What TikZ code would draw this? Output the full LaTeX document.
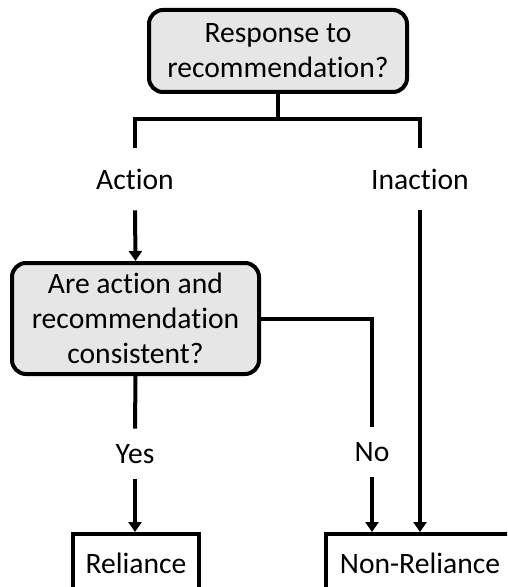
\documentclass[tikz,border=0pt]{standalone}
\definecolor{BoxGray}{HTML}{E6E6E6}
\usepackage{fontspec}
\setmainfont[Ligatures={NoCommon, NoContextual}]{Carlito}
\usepackage{tikz}
\usetikzlibrary{positioning, arrows.meta, calc}

\begin{document}
\begin{tikzpicture}[
  x=0.5pt, y=-0.5pt,
  question/.style={
    draw=black, line width=2pt, rounded corners=7pt,
    fill=BoxGray, align=center, inner sep=0pt,
    font=\fontsize{14.8pt}{17.6pt}\selectfont
  },
  outcome/.style={
    draw=black, line width=2pt, align=center,
    minimum height=29pt, inner sep=0pt,
    font=\fontsize{14.8pt}{17.6pt}\selectfont
  },
  lbl/.style={inner sep=0pt, font=\fontsize{14.8pt}{17.6pt}\selectfont},
  link/.style={line width=2pt},
  arrow/.style={line width=2pt, -{Triangle[length=5pt, width=6.5pt]}}
]
  \useasboundingbox (0,0) rectangle (507,587);
  \clip (0,0) rectangle (507,587);

  \node[question, minimum width=129pt, minimum height=41pt] (q1) at (278,51)
    {Response to\\recommendation?};
  \coordinate (split) at (278,119);

  \node[lbl, minimum height=31pt] (act) at (135,179) {Action};
  \node[lbl, minimum height=31pt] (inact) at (420,179) {Inaction};

  \node[question, minimum width=123.5pt, minimum height=55.5pt] (q2) at (135.5,318.5)
    {Are action and\\recommendation\\consistent?};

  \node[lbl, minimum height=25pt] (yes) at (135,454) {Yes};
  \node[lbl, minimum height=25pt] (no) at (372,452) {No};

  % outcomes, cut by the lower edge
  \node[outcome, minimum width=63pt] (rel) at (136,563) {Reliance};
  \node[outcome, minimum width=94pt] (nonrel) at (420,563) {Non-Reliance};

  \draw[link] (q1.south) -- (split) -| (act.north);
  \draw[link] (split) -| (inact.north);
  \draw[arrow] (act.south) -- (q2.north);
  \draw[link] (q2.south) -- (yes.north);
  \draw[link] (q2.east) -| (no.north);
  \draw[arrow] (yes.south) -- (yes.south |- rel.north);
  \draw[arrow] (no.south) -- (no.south |- nonrel.north);
  \draw[arrow] (inact.south) -- (inact.south |- nonrel.north);
\end{tikzpicture}
\end{document}
